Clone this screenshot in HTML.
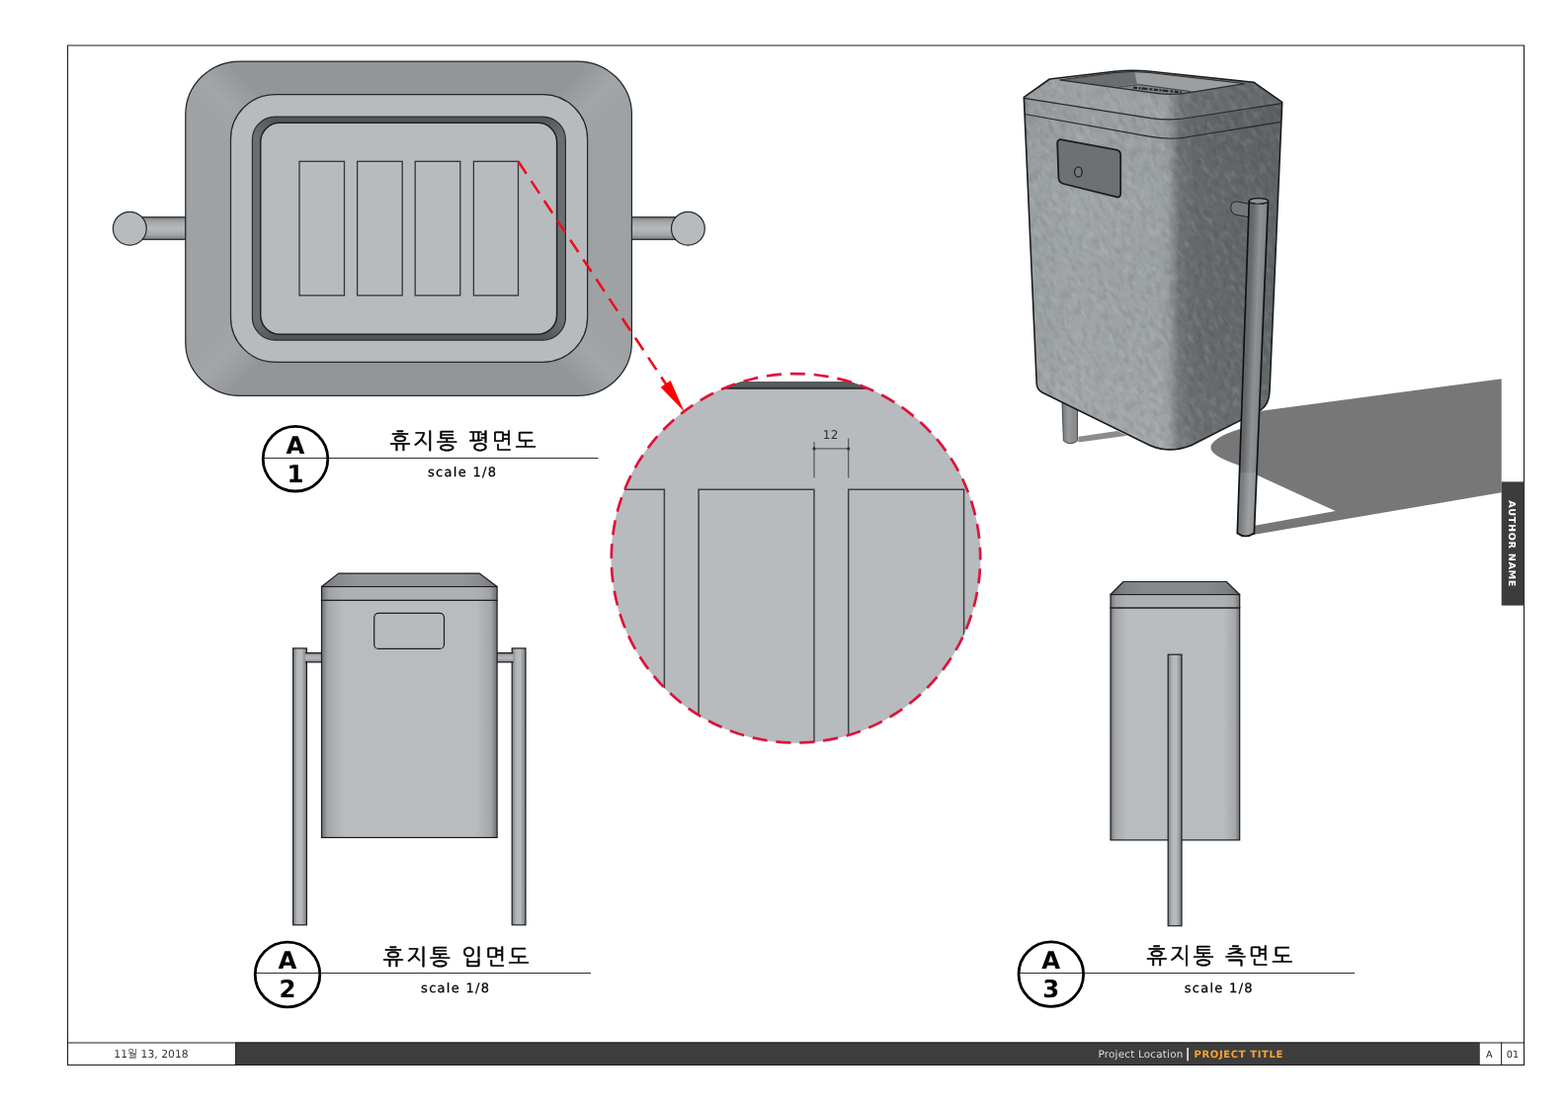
<!DOCTYPE html>
<html lang="ko"><head><meta charset="utf-8"><title>휴지통 도면</title>
<style>
html,body{margin:0;padding:0;background:#fff;}
body{width:1587px;height:1122px;overflow:hidden;}
svg{display:block;}
.lat{font-family:"DejaVu Sans","Liberation Sans",sans-serif;}
.kor{font-family:"Liberation Sans","NanumGothic","Noto Sans CJK KR",sans-serif;}
.ln{stroke:#24282b;stroke-width:1.25;fill:none;}
text{opacity:0.999;text-rendering:geometricPrecision;}
</style></head><body>
<svg width="1587" height="1122" viewBox="0 0 1587 1122">
<defs>
<linearGradient id="gBarH" x1="0" y1="0" x2="0" y2="1">
 <stop offset="0" stop-color="#7d7f82"/><stop offset="0.2" stop-color="#a3a5a8"/><stop offset="0.5" stop-color="#b7bbbe"/><stop offset="0.8" stop-color="#a3a5a8"/><stop offset="1" stop-color="#77797c"/>
</linearGradient>
<linearGradient id="gBody" x1="0" y1="0" x2="1" y2="0">
 <stop offset="0" stop-color="#6e7073"/><stop offset="0.035" stop-color="#a4a7aa"/><stop offset="0.12" stop-color="#b9bcbf"/><stop offset="0.88" stop-color="#b9bcbf"/><stop offset="0.965" stop-color="#a4a7aa"/><stop offset="1" stop-color="#6e7073"/>
</linearGradient>
<linearGradient id="gPost" x1="0" y1="0" x2="1" y2="0">
 <stop offset="0" stop-color="#7a7c7f"/><stop offset="0.3" stop-color="#b3b6b9"/><stop offset="0.6" stop-color="#b9bcbf"/><stop offset="1" stop-color="#7a7c7f"/>
</linearGradient>
<linearGradient id="gLid" x1="0" y1="0" x2="1" y2="0">
 <stop offset="0" stop-color="#6e7073"/><stop offset="0.04" stop-color="#a0a3a6"/><stop offset="0.12" stop-color="#aeb1b4"/><stop offset="0.88" stop-color="#aeb1b4"/><stop offset="0.96" stop-color="#a0a3a6"/><stop offset="1" stop-color="#6e7073"/>
</linearGradient>
<clipPath id="clipR"><rect x="600" y="386.1" width="420" height="400"/></clipPath>
<clipPath id="clipC" clip-path="url(#clipR)"><circle cx="805.5" cy="564.8" r="187"/></clipPath>
</defs>
<rect width="1587" height="1122" fill="#fff"/>

<g id="frame">
<path d="M68.5 45.4 V1078 M1542.5 45.4 V1078 M68 46 H1543" fill="none" stroke="#1c1c1c" stroke-width="1.1"/>
</g>
<g id="plan">
<rect x="131" y="219.7" width="57" height="22.6" fill="url(#gBarH)" stroke="#24282b" stroke-width="1.2"/>
<circle cx="131.3" cy="231.2" r="16.9" fill="#b7bbbe" stroke="#24282b" stroke-width="1.2"/>
<rect x="639" y="219.7" width="57" height="22.6" fill="url(#gBarH)" stroke="#24282b" stroke-width="1.2"/>
<circle cx="696.4" cy="231.2" r="16.9" fill="#b7bbbe" stroke="#24282b" stroke-width="1.2"/>
<clipPath id="clipO"><rect x="187.8" y="62" width="451.6" height="338.3" rx="55" ry="54"/></clipPath>
<linearGradient id="cTL" gradientUnits="userSpaceOnUse" x1="246" y1="76" x2="206" y2="116"><stop offset="0" stop-color="#929699"/><stop offset="0.55" stop-color="#a2a6a9"/><stop offset="1" stop-color="#9ea2a5"/></linearGradient>
<linearGradient id="cTR" gradientUnits="userSpaceOnUse" x1="581" y1="76" x2="621" y2="116"><stop offset="0" stop-color="#929699"/><stop offset="0.55" stop-color="#a2a6a9"/><stop offset="1" stop-color="#9ea2a5"/></linearGradient>
<linearGradient id="cBL" gradientUnits="userSpaceOnUse" x1="246" y1="386" x2="206" y2="346"><stop offset="0" stop-color="#929699"/><stop offset="0.55" stop-color="#a2a6a9"/><stop offset="1" stop-color="#9ea2a5"/></linearGradient>
<linearGradient id="cBR" gradientUnits="userSpaceOnUse" x1="581" y1="386" x2="621" y2="346"><stop offset="0" stop-color="#929699"/><stop offset="0.55" stop-color="#a2a6a9"/><stop offset="1" stop-color="#9ea2a5"/></linearGradient>
<g clip-path="url(#clipO)">
<rect x="187" y="61" width="453" height="340" fill="#9ea2a5"/>
<rect x="240" y="61" width="347" height="36" fill="#929699"/>
<rect x="240" y="365" width="347" height="36" fill="#929699"/>
<path d="M242 61 H187 V118 L234 141 L279 96 Z" fill="url(#cTL)"/>
<path d="M585 61 H640 V118 L594 141 L549 96 Z" fill="url(#cTR)"/>
<path d="M242 401 H187 V344 L234 321 L279 366 Z" fill="url(#cBL)"/>
<path d="M585 401 H640 V344 L594 321 L549 366 Z" fill="url(#cBR)"/>
</g>
<rect x="187.8" y="62" width="451.6" height="338.3" rx="55" ry="54" class="ln"/>
<rect x="233.5" y="95.6" width="361.1" height="270.7" rx="45" ry="45" fill="#b7bbbe" stroke="#24282b" stroke-width="1.25"/>
<clipPath id="clipD"><rect x="255.4" y="118.2" width="317" height="225.9" rx="23" ry="23"/></clipPath>
<linearGradient id="dTL" gradientUnits="userSpaceOnUse" x1="276" y1="121" x2="260" y2="137"><stop offset="0" stop-color="#54575a"/><stop offset="1" stop-color="#6b6e71"/></linearGradient>
<linearGradient id="dTR" gradientUnits="userSpaceOnUse" x1="552" y1="121" x2="568" y2="137"><stop offset="0" stop-color="#54575a"/><stop offset="1" stop-color="#6b6e71"/></linearGradient>
<linearGradient id="dBL" gradientUnits="userSpaceOnUse" x1="276" y1="341" x2="260" y2="325"><stop offset="0" stop-color="#54575a"/><stop offset="1" stop-color="#6b6e71"/></linearGradient>
<linearGradient id="dBR" gradientUnits="userSpaceOnUse" x1="552" y1="341" x2="568" y2="325"><stop offset="0" stop-color="#54575a"/><stop offset="1" stop-color="#6b6e71"/></linearGradient>
<g clip-path="url(#clipD)">
<rect x="255" y="117" width="318" height="228" fill="#6b6e71"/>
<rect x="276" y="117" width="276" height="9" fill="#54575a"/>
<rect x="276" y="336" width="276" height="9" fill="#54575a"/>
<rect x="255" y="117" width="22" height="30" fill="url(#dTL)"/>
<rect x="551" y="117" width="22" height="30" fill="url(#dTR)"/>
<rect x="255" y="315" width="22" height="30" fill="url(#dBL)"/>
<rect x="551" y="315" width="22" height="30" fill="url(#dBR)"/>
</g>
<rect x="255.4" y="118.2" width="317" height="225.9" rx="23" ry="23" fill="none" stroke="#2a2c2e" stroke-width="1.2"/>
<rect x="263.7" y="124.2" width="299.9" height="214" rx="19.5" ry="19.5" fill="#b7bbbe" stroke="#1e2225" stroke-width="1.5"/>
<rect x="303" y="163.3" width="45.5" height="135.6" fill="#b7bbbe" stroke="#30353a" stroke-width="1.3"/>
<rect x="361.6" y="163.3" width="45.6" height="135.6" fill="#b7bbbe" stroke="#30353a" stroke-width="1.3"/>
<rect x="420.2" y="163.3" width="45.6" height="135.6" fill="#b7bbbe" stroke="#30353a" stroke-width="1.3"/>
<rect x="479.4" y="163.3" width="45.1" height="135.6" fill="#b7bbbe" stroke="#30353a" stroke-width="1.3"/>
</g>
<g class="label">
<line x1="266.2" y1="463.5" x2="605.5" y2="463.5" stroke="#2e2e2e" stroke-width="1"/>
<circle cx="299" cy="464.2" r="32.8" fill="none" stroke="#000" stroke-width="2.8"/>
<text class="lat" x="299" y="458.59999999999997" font-size="24.4" font-weight="bold" text-anchor="middle" fill="#000">A</text>
<text class="lat" x="299" y="487.59999999999997" font-size="24.4" font-weight="bold" text-anchor="middle" fill="#000">1</text>
<text class="kor" x="469.8" y="453.7" font-size="22.4" letter-spacing="2.6" text-anchor="middle" fill="#000" stroke="#000" stroke-width="0.5">휴지통 평면도</text>
<text class="lat" x="468.1" y="482.2" font-size="13" letter-spacing="1.3" text-anchor="middle" fill="#000" stroke="#000" stroke-width="0.25">scale 1/8</text>
</g>
<g class="label">
<line x1="258.2" y1="984.5" x2="598" y2="984.5" stroke="#2e2e2e" stroke-width="1"/>
<circle cx="291" cy="986" r="32.8" fill="none" stroke="#000" stroke-width="2.8"/>
<text class="lat" x="291" y="980.4" font-size="24.4" font-weight="bold" text-anchor="middle" fill="#000">A</text>
<text class="lat" x="291" y="1009.4" font-size="24.4" font-weight="bold" text-anchor="middle" fill="#000">2</text>
<text class="kor" x="462.9" y="975.5" font-size="22.4" letter-spacing="2.6" text-anchor="middle" fill="#000" stroke="#000" stroke-width="0.5">휴지통 입면도</text>
<text class="lat" x="461.2" y="1004" font-size="13" letter-spacing="1.3" text-anchor="middle" fill="#000" stroke="#000" stroke-width="0.25">scale 1/8</text>
</g>
<g class="label">
<line x1="1031.0" y1="984.5" x2="1371" y2="984.5" stroke="#2e2e2e" stroke-width="1"/>
<circle cx="1063.8" cy="985.6" r="32.8" fill="none" stroke="#000" stroke-width="2.8"/>
<text class="lat" x="1063.8" y="980.0" font-size="24.4" font-weight="bold" text-anchor="middle" fill="#000">A</text>
<text class="lat" x="1063.8" y="1009.0" font-size="24.4" font-weight="bold" text-anchor="middle" fill="#000">3</text>
<text class="kor" x="1235.5" y="975.1" font-size="22.4" letter-spacing="2.6" text-anchor="middle" fill="#000" stroke="#000" stroke-width="0.5">휴지통 측면도</text>
<text class="lat" x="1233.8" y="1003.6" font-size="13" letter-spacing="1.3" text-anchor="middle" fill="#000" stroke="#000" stroke-width="0.25">scale 1/8</text>
</g>
<g id="detail">
<g clip-path="url(#clipC)">
<rect x="610" y="370" width="400" height="400" fill="#b7bbbe"/>
<rect x="610" y="370" width="400" height="23.6" fill="#595b5d"/>
<rect x="610" y="391.8" width="400" height="1.9" fill="#2f3133"/>
<path d="M610 495.2 H672.4 V760 M707.1 760 V495.2 H824 V760 M858.7 760 V495.2 H975.6 V760" fill="none" stroke="#3c4044" stroke-width="1.5"/>
</g>
<path d="M824 447 V483.5 M858.7 443.4 V483.5 M824 453.9 H858.7" fill="none" stroke="#5a5d60" stroke-width="1.3"/>
<circle cx="824" cy="453.9" r="1.6" fill="#333"/><circle cx="858.7" cy="453.9" r="1.6" fill="#333"/>
<text class="lat" x="840.8" y="444.3" font-size="12" letter-spacing="0.3" text-anchor="middle" fill="#2c2e30">12</text>
<circle cx="805.5" cy="564.8" r="186.7" fill="none" stroke="#dc143c" stroke-width="2.7" stroke-dasharray="15.1 8.879" stroke-dashoffset="13.5"/>
<line x1="524.5" y1="163.3" x2="678" y2="394.6" stroke="#ec0f1c" stroke-width="2.6" stroke-dasharray="15 8.8"/>
<path d="M692.7 416.8 L668.7 391.7 L678.6 385 Z" fill="#ff0000"/>
</g>
<linearGradient id="gCh" x1="0" y1="0" x2="1" y2="0"><stop offset="0" stop-color="#6c6e71"/><stop offset="0.07" stop-color="#85878a"/><stop offset="0.2" stop-color="#939598"/><stop offset="0.8" stop-color="#939598"/><stop offset="0.93" stop-color="#85878a"/><stop offset="1" stop-color="#6c6e71"/></linearGradient>
<g id="front">
<rect x="296.6" y="655.9" width="13.8" height="279.9" fill="url(#gPost)" stroke="#1c1c1e" stroke-width="1.2"/>
<rect x="518.2" y="655.9" width="13.8" height="279.9" fill="url(#gPost)" stroke="#1c1c1e" stroke-width="1.2"/>
<rect x="309" y="660.7" width="16.4" height="9.2" fill="url(#gBarH)"/>
<path d="M309 660.7 h16.4 M309 669.9 h16.4" fill="none" stroke="#1c1c1e" stroke-width="1.2"/>
<rect x="503.1" y="660.7" width="16.4" height="9.2" fill="url(#gBarH)"/>
<path d="M503.1 660.7 h16.4 M503.1 669.9 h16.4" fill="none" stroke="#1c1c1e" stroke-width="1.2"/>
<rect x="325.5" y="607.3" width="177.6" height="240.1" fill="url(#gBody)" stroke="#1c1c1e" stroke-width="1.2"/>
<rect x="325.5" y="593.5" width="177.6" height="13.8" fill="url(#gLid)" stroke="#1c1c1e" stroke-width="1.2"/>
<path d="M325.5 593.5 L342.6 580.1 H485.1 L503.1 593.5 Z" fill="url(#gCh)" stroke="#1c1c1e" stroke-width="1.2" stroke-linejoin="round"/>
<rect x="378.7" y="620.3" width="70.8" height="36.1" rx="4.5" fill="#b8bbbe" stroke="#1c1c1e" stroke-width="1.2"/>
</g>
<g id="side">
<rect x="1124" y="614.9" width="130.7" height="235" fill="url(#gBody)" stroke="#1c1c1e" stroke-width="1.2"/>
<rect x="1124" y="601.5" width="130.7" height="13.4" fill="url(#gLid)" stroke="#1c1c1e" stroke-width="1.2"/>
<linearGradient id="gCh2" x1="0" y1="0" x2="1" y2="0"><stop offset="0" stop-color="#66686b"/><stop offset="0.1" stop-color="#7d8083"/><stop offset="0.25" stop-color="#86898c"/><stop offset="0.75" stop-color="#86898c"/><stop offset="0.9" stop-color="#7d8083"/><stop offset="1" stop-color="#66686b"/></linearGradient>
<path d="M1124 601.5 L1137 588.5 H1241.3 L1254.7 601.5 Z" fill="url(#gCh2)" stroke="#1c1c1e" stroke-width="1.2" stroke-linejoin="round"/>
<rect x="1182.2" y="662.2" width="13.8" height="274.5" fill="url(#gPost)" stroke="#1c1c1e" stroke-width="1.2"/>
</g>
<g id="persp">
<defs>
<linearGradient id="pBody" gradientUnits="userSpaceOnUse" x1="1036" y1="0" x2="1298" y2="0">
 <stop offset="0" stop-color="#83888b"/><stop offset="0.02" stop-color="#9ba0a3"/><stop offset="0.2" stop-color="#a0a5a8"/><stop offset="0.53" stop-color="#9da2a5"/><stop offset="0.56" stop-color="#969b9e"/><stop offset="0.6" stop-color="#6f7477"/><stop offset="0.66" stop-color="#65696c"/><stop offset="1" stop-color="#5f6467"/>
</linearGradient>
<linearGradient id="pShade" gradientUnits="userSpaceOnUse" x1="0" y1="70" x2="0" y2="455">
 <stop offset="0" stop-color="#000" stop-opacity="0.06"/><stop offset="0.35" stop-color="#000" stop-opacity="0"/><stop offset="1" stop-color="#fff" stop-opacity="0.05"/>
</linearGradient>
<linearGradient id="pPost" gradientUnits="userSpaceOnUse" x1="1262" y1="0" x2="1282" y2="0" gradientTransform="rotate(2.3 1270 370)">
 <stop offset="0" stop-color="#66696c"/><stop offset="0.38" stop-color="#8e9295"/><stop offset="0.6" stop-color="#85898c"/><stop offset="1" stop-color="#5c5f62"/>
</linearGradient>
<linearGradient id="pLeg" gradientUnits="userSpaceOnUse" x1="1075" y1="0" x2="1091" y2="0">
 <stop offset="0" stop-color="#74787b"/><stop offset="0.4" stop-color="#969a9d"/><stop offset="1" stop-color="#7f8386"/>
</linearGradient>
<filter id="tex" x="0" y="0" width="100%" height="100%" color-interpolation-filters="sRGB">
 <feTurbulence type="fractalNoise" baseFrequency="0.1 0.2" numOctaves="3" seed="7" result="n"/>
 <feColorMatrix in="n" type="matrix" values="0 0 0 0 1  0 0 0 0 1  0 0 0 0 1  1.6 0 0 0 -0.72" result="w"/>
 <feComposite in="w" in2="SourceAlpha" operator="in"/>
</filter>
<filter id="texd" x="0" y="0" width="100%" height="100%" color-interpolation-filters="sRGB">
 <feTurbulence type="fractalNoise" baseFrequency="0.1 0.2" numOctaves="3" seed="23" result="n"/>
 <feColorMatrix in="n" type="matrix" values="0 0 0 0 0  0 0 0 0 0  0 0 0 0 0  1.6 0 0 0 -0.72" result="w"/>
 <feComposite in="w" in2="SourceAlpha" operator="in"/>
</filter>
<clipPath id="pClip"><path d="M1036.3 98.4 L1062.3 80 L1128 72.2 Q1146 70.3 1162 72 L1269 83.2 L1297.7 103.4 L1285 396 Q1284.6 409 1275.9 414.9 L1205.4 450.7 Q1193 455.6 1180.2 454.8 Q1170 454 1160 448.7 L1055.2 397.3 Q1049.5 394.5 1049.2 388 Z"/></clipPath>
</defs>
<!-- ground shadow -->
<path d="M1276.4 415.8 L1519.7 383.2 V498.3 L1269.5 540.9 L1262 541 L1264 532.8 L1351.7 517.1 L1271.8 480.5 L1254.4 471 C1236 464.5 1225.4 459 1225.4 452.8 C1225.4 446.5 1237 439.5 1255.6 433.8 Z" fill="#777777"/>
<path d="M1091.5 441.7 L1130.8 436 L1141 440.7 L1091.5 447.4 Z" fill="#8c8c8c"/>
<!-- rear leg -->
<path d="M1074.9 404 L1076.4 446 Q1083.5 451.5 1090.6 446 L1090.5 412 Z" fill="url(#pLeg)" stroke="#3a3c3e" stroke-width="0.9"/>
<!-- body -->
<g clip-path="url(#pClip)">
 <rect x="1030" y="65" width="275" height="395" fill="url(#pBody)"/>
 <rect x="1030" y="65" width="275" height="395" fill="url(#pShade)"/>
 <!-- lid chamfer slightly lighter on left -->
 <path d="M1036.3 98.4 L1062.3 80 L1145 70.5 L1269 83.2 L1297.7 103.4 L1297 104.6 L1208 118.5 Q1187 122.5 1165 119.6 L1036.6 99.4 Z" fill="#fff" fill-opacity="0.06"/>
 <g transform="rotate(60 1165 260)" opacity="0.2">
  <rect x="900" y="0" width="560" height="560" fill="#fff" filter="url(#tex)"/>
  <rect x="900" y="0" width="560" height="560" fill="#000" filter="url(#texd)" opacity="0.7"/>
 </g>
</g>
<!-- top opening -->
<path d="M1072.7 80.9 L1128 73.6 Q1146 71.6 1162 73.4 L1259.5 84.6 L1206 93.4 Q1189 96.6 1172 94.6 Z" fill="#989b9e"/>
<path d="M1072.7 80.9 L1128 73.6 Q1140 72.3 1148.3 72.6 L1151 84.6 L1125.6 88.2 Z" fill="#6a6d70"/>
<path d="M1148.3 72.6 L1162 73.4 L1259.5 84.6 L1209 92.6 L1151 84.6 Z" fill="#9c9fa2"/>
<path d="M1125.6 88.2 L1151 84.6 L1209 92.6 L1206 93.4 Q1189 96.6 1172 94.6 Z" fill="#808386"/>
<path d="M1130 88.4 L1152 85.6 L1205 92.6" fill="none" stroke="#3a3c3e" stroke-width="0.9"/>
<path d="M1147 88.6 L1196 93.4" fill="none" stroke="#232527" stroke-width="2.2" stroke-dasharray="4 1.5 2 1 6 2 3 1.5"/>
<path d="M1072.7 80.9 L1172 94.6 Q1189 96.6 1206 93.4 L1259.5 84.6" fill="none" stroke="#2a2c2e" stroke-width="1.2"/>
<path d="M1072.7 80.9 L1128 73.6 Q1146 71.6 1162 73.4 L1259.5 84.6" fill="none" stroke="#2a2c2e" stroke-width="1"/>
<!-- lid lines -->
<path d="M1036.6 99.4 L1165 119.6 Q1187 122.5 1208 118.5 L1297 104.6" fill="none" stroke="#26282a" stroke-width="1.15"/>
<path d="M1037.1 115.5 L1165 138.4 Q1188 142.5 1210 137.3 L1296.5 123.4" fill="none" stroke="#26282a" stroke-width="1.15"/>
<!-- panel -->
<path d="M1074.6 141.3 L1130 151.7 Q1134.2 152.6 1134.2 157 L1134.2 195.5 Q1134.2 200.6 1129.5 199.2 L1076.5 186 Q1071.6 184.7 1071.4 180 L1070.2 145 Q1070.1 140.5 1074.6 141.3 Z" fill="#6d7174" stroke="#1b1d1f" stroke-width="1.8" stroke-linejoin="round"/>
<ellipse cx="1091.4" cy="173.9" rx="3.8" ry="5.1" fill="#75797c" stroke="#222426" stroke-width="1.3"/>
<!-- outline -->
<path d="M1036.3 98.4 L1062.3 80 L1128 72.2 Q1146 70.3 1162 72 L1269 83.2 L1297.7 103.4 L1285 396 Q1284.6 409 1275.9 414.9 L1205.4 450.7 Q1193 455.6 1180.2 454.8 Q1170 454 1160 448.7 L1055.2 397.3 Q1049.5 394.5 1049.2 388 Z" fill="none" stroke="#1a1c1e" stroke-width="1.6" stroke-linejoin="round"/>
<!-- stub -->
<path d="M1264.3 206.3 L1251.5 203.8 Q1245.6 204.3 1245.7 210.4 Q1246 216.4 1251.5 217.4 L1263.7 219.7" fill="#75787b" stroke="#1e2022" stroke-width="1"/>
<!-- post -->
<path d="M1264.3 203.2 L1252.3 539.5 Q1260.5 545.5 1269.4 539.5 L1283.5 203.2 Q1274 199.5 1264.3 203.2 Z" fill="url(#pPost)"/>
<path d="M1254.6 478 L1252.3 539.5 Q1260.5 545.5 1269.4 539.5 L1272 478 Z" fill="#fff" fill-opacity="0.13"/>
<path d="M1264.3 203.2 L1252.3 539.5 Q1260.5 545.5 1269.4 539.5 L1283.5 203.2 Q1274 199.5 1264.3 203.2 Z" fill="none" stroke="#111315" stroke-width="1.7" stroke-linejoin="round"/>
<ellipse cx="1273.9" cy="203.4" rx="9.6" ry="2.8" fill="#8f9295" stroke="#15171a" stroke-width="1.1"/>

</g>
<g id="author">
<rect x="1519.7" y="487.4" width="22.8" height="125.2" fill="#3c3c3c"/>
<text class="lat" transform="translate(1527.3 550.2) rotate(90)" font-size="9.6" letter-spacing="0.72" font-weight="bold" text-anchor="middle" fill="#fff">AUTHOR NAME</text>
</g>
<g id="titlebar">
<rect x="238.5" y="1054.5" width="1259.3" height="23" fill="#3d3d3d"/>
<path d="M68.5 1055 H1542.5" fill="none" stroke="#1c1c1c" stroke-width="1.2"/>
<path d="M238.5 1054.5 V1077.5 M1519.6 1054.5 V1077.5" fill="none" stroke="#2a2a2a" stroke-width="1.1"/>
<path d="M68 1077.5 H1543" fill="none" stroke="#1c1c1c" stroke-width="1.2"/>
<text class="kor" x="153" y="1069.6" font-size="10.8" text-anchor="middle" fill="#333"><tspan class="lat">11</tspan>월<tspan class="lat"> 13, 2018</tspan></text>
<text class="lat" x="1111.5" y="1069.6" font-size="10.4" letter-spacing="0.2" fill="#dcdcdc">Project Location</text>
<text class="lat" x="1202.3" y="1069.5" font-size="13" text-anchor="middle" fill="#fff" stroke="#fff" stroke-width="0.25">|</text>
<text class="lat" x="1208.6" y="1069.6" font-size="10" letter-spacing="0.62" font-weight="bold" fill="#f9a230">PROJECT TITLE</text>
<text class="lat" x="1507.2" y="1069.8" font-size="9.7" text-anchor="middle" fill="#222">A</text>
<text class="lat" x="1530.9" y="1069.8" font-size="9.7" text-anchor="middle" fill="#222">01</text>
</g>
</svg>
</body></html>
